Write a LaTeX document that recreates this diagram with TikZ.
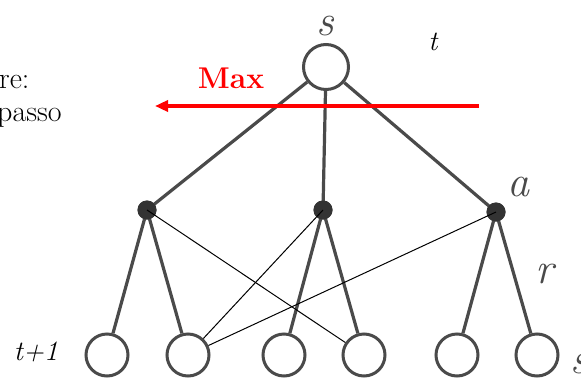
\documentclass[tikz,border=0pt]{standalone}
\usetikzlibrary{arrows.meta}
\definecolor{edgegray}{HTML}{4A4A4A}
\definecolor{dotgray}{HTML}{333333}
\begin{document}
\begin{tikzpicture}[x=1pt,y=-1pt,
  treeedge/.style={draw=edgegray,line width=3.2pt},
  leafnode/.style={circle,draw=edgegray,line width=3pt,fill=white,minimum size=42pt,inner sep=0pt},
  rootnode/.style={circle,draw=edgegray,line width=3pt,fill=white,minimum size=45pt,inner sep=0pt},
  actnode/.style={circle,fill=dotgray,minimum size=19pt,inner sep=0pt},
  thinline/.style={draw=black,line width=1pt},
  biglabel/.style={font=\fontsize{44}{44}\selectfont\itshape,text=edgegray,inner sep=0pt},
  smalllabel/.style={font=\fontsize{28}{30}\selectfont\itshape,inner sep=0pt},
  sidetext/.style={font=\fontsize{30}{32}\selectfont,inner sep=0pt,anchor=west}
]
\useasboundingbox (0,0) rectangle (581,378);
\clip (0,0) rectangle (581,378);
% nodes
\node[rootnode] (root) at (326,67) {};
\node[actnode] (m1) at (147,210) {};
\node[actnode] (m2) at (323,210) {};
\node[actnode] (m3) at (496,212) {};
\node[leafnode] (l1) at (107,355) {};
\node[leafnode] (l2) at (188,355) {};
\node[leafnode] (l3) at (284,355) {};
\node[leafnode] (l4) at (364,355) {};
\node[leafnode] (l5) at (457,355) {};
\node[leafnode] (l6) at (537,355) {};
% tree edges
\draw[treeedge] (root) -- (m1.center);
\draw[treeedge] (root) -- (m2.center);
\draw[treeedge] (root) -- (m3.center);
\draw[treeedge] (m1.center) -- (l1);
\draw[treeedge] (m1.center) -- (l2);
\draw[treeedge] (m2.center) -- (l3);
\draw[treeedge] (m2.center) -- (l4);
\draw[treeedge] (m3.center) -- (l5);
\draw[treeedge] (m3.center) -- (l6);
% redraw dots over edges
\node[actnode] at (m1) {};
\node[actnode] at (m2) {};
\node[actnode] at (m3) {};
% thin lines
\draw[thinline] (m1.center) -- (l4);
\draw[thinline] (m2.center) -- (l2);
\draw[thinline] (m3.center) -- (l2);
% labels
\node[biglabel] (ls) at (325,26) {s};
\node[biglabel] (la) at (518,187) {a};
\node[biglabel] (lr) at (545,274) {r};
\node[biglabel,anchor=west] (ls2) at (570,364) {s};
\node[smalllabel] (lt) at (433,42) {t};
\node[smalllabel] (lt1) at (36,352) {t+1};
\node[font=\fontsize{30}{30}\selectfont\bfseries,text=red,inner sep=0pt] (max) at (231,78) {Max};
\node[sidetext] (re) at (-1,82) {re:};
\node[sidetext] (passo) at (-3,118) {passo};
% red arrow
\coordinate (arrstart) at (479,106);
\coordinate (arrend) at (155,106);
\draw[red,line width=3.5pt,-{Triangle[length=13pt,width=11pt]}] (arrstart) -- (arrend);
\end{tikzpicture}
\end{document}
